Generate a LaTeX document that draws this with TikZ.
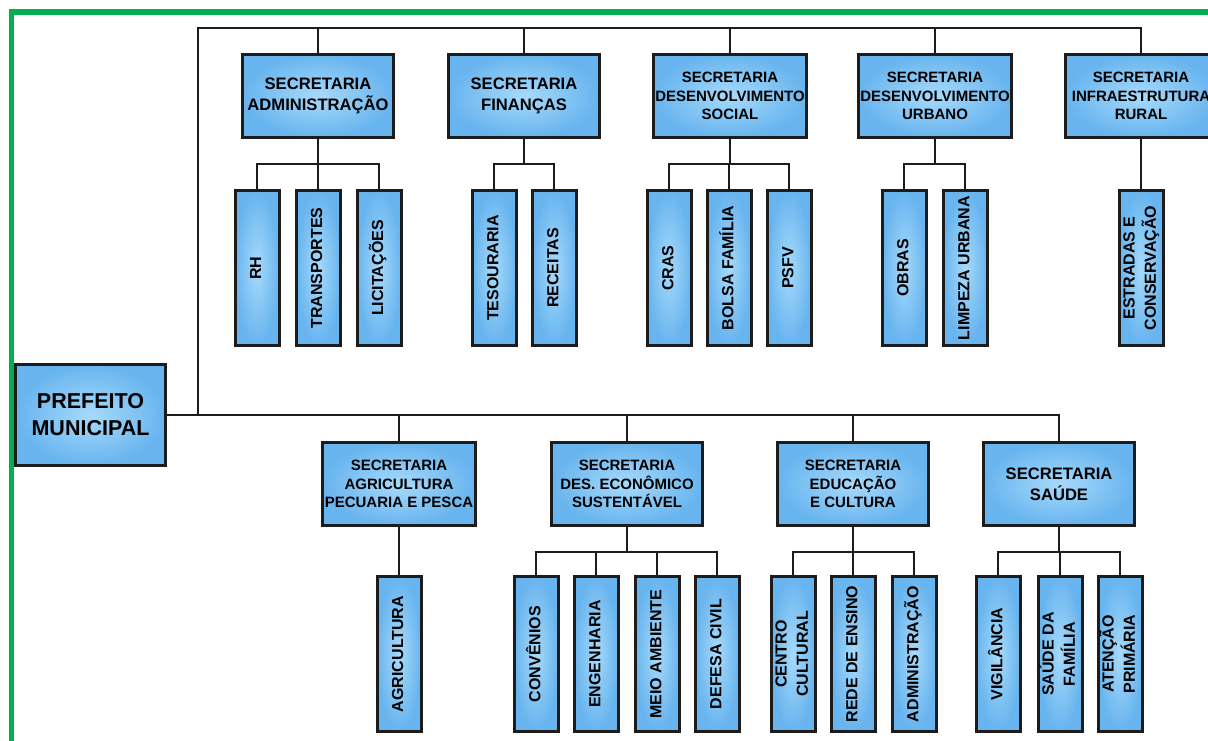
\documentclass[tikz,border=0pt]{standalone}
\usepackage{fontspec}
\setmainfont{Liberation Sans}
\usetikzlibrary{positioning,calc}

\definecolor{boxout}{RGB}{104,180,238}
\definecolor{boxin}{RGB}{166,218,251}
\definecolor{framegreen}{RGB}{0,176,80}
\definecolor{linedark}{RGB}{28,28,28}

% vertical label for the small boxes
\newcommand{\vlab}[1]{\rotatebox{90}{\begin{tabular}{@{}c@{}}#1\end{tabular}}}

\tikzset{
  unitbox/.style={draw=linedark, line width=1.5pt, inner color=boxin, outer color=boxout, inner sep=1pt},
  secbox/.style={unitbox, minimum width=75.5pt, minimum height=41.5pt, align=center,
                 font=\fontsize{8.3}{10.5}\selectfont\bfseries},
  secsmall/.style={secbox, font=\fontsize{7.5}{9.3}\selectfont\bfseries},
  subbox/.style={unitbox, inner sep=0pt, minimum width=22pt, minimum height=77.5pt,
                 font=\fontsize{8}{10.6}\selectfont\bfseries},
  headbox/.style={unitbox, minimum width=75pt, minimum height=50.5pt, align=center,
                  font=\fontsize{10.75}{13.5}\selectfont\bfseries},
  link/.style={draw=linedark, line width=1.4pt}
}

\begin{document}
\begin{tikzpicture}[x=0.5pt,y=-0.5pt]
  \useasboundingbox (0,0) rectangle (1208,740);

  % Green frame
  \draw[framegreen, line width=2.65pt] (11.5,750) -- (11.5,12) -- (1220,12);

  % Head
  \node[headbox] (pm) at (90.5,415) {PREFEITO\\MUNICIPAL};

  % Top row of secretarias
  \node[secbox]   (adm)    at (318,96)  {SECRETARIA\\ADMINISTRAÇÃO};
  \node[secbox]   (fin)    at (524,96)  {SECRETARIA\\FINANÇAS};
  \node[secsmall] (social) at (730,96)  {SECRETARIA\\DESENVOLVIMENTO\\SOCIAL};
  \node[secsmall] (urbano) at (935,96)  {SECRETARIA\\DESENVOLVIMENTO\\URBANO};
  \node[secsmall] (infra)  at (1141,96) {SECRETARIA\\INFRAESTRUTURA\\RURAL};

  % Top row of units
  \node[subbox] (rh)       at (257,268)  {\vlab{RH}};
  \node[subbox] (transp)   at (318,268)  {\vlab{TRANSPORTES}};
  \node[subbox] (licit)    at (379,268)  {\vlab{LICITAÇÕES}};
  \node[subbox] (tesour)   at (494,268)  {\vlab{TESOURARIA}};
  \node[subbox] (receitas) at (554,268)  {\vlab{RECEITAS}};
  \node[subbox] (cras)     at (669,268)  {\vlab{CRAS}};
  \node[subbox] (bolsa)    at (729,268)  {\vlab{BOLSA FAMÍLIA}};
  \node[subbox] (psfv)     at (789,268)  {\vlab{PSFV}};
  \node[subbox] (obras)    at (904,268)  {\vlab{OBRAS}};
  \node[subbox] (limpeza)  at (965,268)  {\vlab{LIMPEZA URBANA}};
  \node[subbox] (estradas) at (1141,268) {\vlab{ESTRADAS E\\CONSERVAÇÃO}};

  % Bottom row of secretarias
  \node[secsmall] (agri)  at (399,484)  {SECRETARIA\\AGRICULTURA\\PECUARIA E PESCA};
  \node[secsmall] (deseco) at (627,484) {SECRETARIA\\DES. ECONÔMICO\\SUSTENTÁVEL};
  \node[secsmall] (edu)   at (853,484)  {SECRETARIA\\EDUCAÇÃO\\E CULTURA};
  \node[secbox]   (saude) at (1059,484) {SECRETARIA\\SAÚDE};

  % Bottom row of units
  \node[subbox] (agricult) at (399,654)  {\vlab{AGRICULTURA}};
  \node[subbox] (conv)     at (536,654)  {\vlab{CONVÊNIOS}};
  \node[subbox] (eng)      at (596,654)  {\vlab{ENGENHARIA}};
  \node[subbox] (meio)     at (657,654)  {\vlab{MEIO AMBIENTE}};
  \node[subbox] (defesa)   at (717,654)  {\vlab{DEFESA CIVIL}};
  \node[subbox] (centro)   at (793,654)  {\vlab{CENTRO\\CULTURAL}};
  \node[subbox] (rede)     at (853,654)  {\vlab{REDE DE ENSINO}};
  \node[subbox] (admin)    at (914,654)  {\vlab{ADMINISTRAÇÃO}};
  \node[subbox] (vigil)    at (998,654)  {\vlab{VIGILÂNCIA}};
  \node[subbox] (sfam)     at (1060,654) {\vlab{SAÚDE DA\\FAMÍLIA}};
  \node[subbox] (atencao)  at (1120,654) {\vlab{ATENÇÃO\\PRIMÁRIA}};

  % Main buses
  \coordinate (jt) at (198,28);
  \draw[link] (pm.east) -| (saude.north);
  \draw[link] (jt |- pm.east) -- (jt) -| (infra.north);
  \foreach \s in {adm, fin, social, urbano}
      \draw[link] (\s.north) -- (\s.north |- jt);
  \foreach \s in {agri, deseco, edu}
      \draw[link] (\s.north) -- (\s.north |- pm.east);

  % Secretaria to units
  \foreach \p/\c in {adm/rh, adm/transp, adm/licit, fin/tesour, fin/receitas,
                     social/cras, social/bolsa, social/psfv, urbano/obras, urbano/limpeza,
                     infra/estradas, agri/agricult, deseco/conv, deseco/eng, deseco/meio,
                     deseco/defesa, edu/centro, edu/rede, edu/admin, saude/vigil,
                     saude/sfam, saude/atencao}
      \draw[link] (\p.south) -- ++(0,-12.5pt) -| (\c.north);
\end{tikzpicture}
\end{document}
